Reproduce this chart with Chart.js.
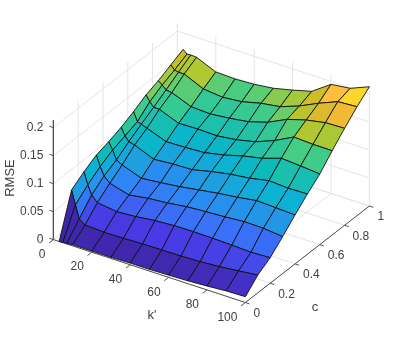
<!DOCTYPE html>
<html><head><meta charset="utf-8">
<style>html,body{margin:0;padding:0;background:#fff}canvas{display:block}</style>
<script src="https://cdn.jsdelivr.net/npm/chart.js@4"></script>
</head><body>
<canvas id="c" width="407" height="339"></canvas>
<script>
// ---- data ----
const kValues = [3, 5, 7, 10, 20, 30, 40, 50, 60, 70, 80, 90, 100];
const cValues = [0, 0.1, 0.2, 0.3, 0.4, 0.5, 0.6, 0.7, 0.8, 0.9, 1];
const rmseC00 = [0, .001, .001, .002, .002, .002, .003, .003, .004, .005, .007, .0095, .0104];
const rmseC01 = [.0747, .0502, .0275, .02, .0183, .0188, .0199, .0204, .0207, .022, .0243, .0279, .0319];
const rmseC02 = [.09, .0688, .053, .0427, .0379, .0402, .0445, .0465, .047, .0465, .0455, .044, .0455];
const rmseC03 = [.1027, .0843, .0696, .06, .0504, .0557, .0586, .0632, .0655, .0675, .0702, .0696, .0659];
const rmseC04 = [.1093, .0966, .0811, .0755, .063, .0664, .0705, .0758, .0811, .0852, .0905, .089, .0873];
const rmseC05 = [.1178, .1045, .0965, .094, .0797, .0825, .0835, .0915, .0979, .102, .1089, .1066, .1076];
const rmseC06 = [.1284, .1128, .1104, .1066, .0939, .0948, .0968, .1038, .1133, .1204, .1316, .1291, .1261];
const rmseC07 = [.141, .1311, .1234, .1232, .1095, .1105, .1095, .1138, .1215, .1348, .1523, .1505, .1504];
const rmseC08 = [.1493, .1437, .1371, .1357, .122, .1202, .1238, .1288, .139, .1555, .1655, .172, .1732];
const rmseC09 = [.1601, .1534, .1515, .1518, .1363, .1327, .1361, .1445, .1496, .1621, .1782, .1923, .1945];
const rmseC10 = [.1709, .1646, .1652, .1645, .1495, .1482, .15, .1541, .1621, .1711, .1948, .1989, .213];
const rmseRows = [rmseC00, rmseC01, rmseC02, rmseC03, rmseC04, rmseC05, rmseC06, rmseC07, rmseC08, rmseC09, rmseC10];
const kTicks = [0, 20, 40, 60, 80, 100];
const cTicks = [0, 0.2, 0.4, 0.6, 0.8, 1];
const zTicks = [0, 0.05, 0.1, 0.15, 0.2];
const zTickLabels = ['0', '0.05', '0.1', '0.15', '0.2'];
const kAxisTitle = "k'";
const cAxisTitle = 'c';
const zAxisTitle = 'RMSE';

// ---- view ----
const kMax = 100, cMax = 1, zMax = 0.2134;
function px(k, c) { return 53.4 + 1.92 * k + 124 * c; }
function py(k, c, z) { return 239.6 + 0.629 * k - 96.5 * c - 560 * z; }
function pt(k, c, z) { return { x: px(k, c), y: py(k, c, z) }; }

const colorStops = [0, .09, .21, .28, .35, .42, .47, .57, .62, .65, .71, .75, .80, .835, .90, 1];
const colorValues = [[62,38,168],[72,58,228],[58,111,248],[45,135,245],[30,158,225],[12,178,212],[10,185,190],[50,200,150],[70,205,130],[105,205,105],[175,200,50],[200,190,40],[238,185,50],[255,190,60],[250,215,40],[249,251,14]];
function colorOf(z) {
  const t = Math.max(0, Math.min(1, z / zMax));
  let i = 0;
  while (i < colorStops.length - 2 && t > colorStops[i + 1]) i++;
  const f = (t - colorStops[i]) / (colorStops[i + 1] - colorStops[i]);
  const v = [0, 1, 2].map(n => Math.round(colorValues[i][n] + (colorValues[i + 1][n] - colorValues[i][n]) * f));
  return `rgb(${v[0]},${v[1]},${v[2]})`;
}

const GRID = '#e4e4e4', AXIS = '#505050';
const painted = [];
function seg(points, color, width) {
  painted.push({ data: points, showLine: true, borderColor: color, borderWidth: width, pointRadius: 0, fill: false, tension: 0 });
}
// walls and floor
zTicks.forEach(z => {
  seg([pt(0, 0, z), pt(0, cMax, z), pt(kMax, cMax, z)], GRID, 1);
});
kTicks.forEach(k => {
  seg([pt(k, 0, 0), pt(k, cMax, 0), pt(k, cMax, zMax)], GRID, 1);
});
cTicks.forEach(c => {
  seg([pt(kMax, c, 0), pt(0, c, 0), pt(0, c, zMax)], GRID, 1);
});
// axes
seg([pt(0, 0, zMax), pt(0, 0, 0), pt(kMax, 0, 0), pt(kMax, cMax, 0)], AXIS, 1);
zTicks.forEach(z => seg([pt(0, 0, z), pt(-2.1, 0, z)], AXIS, 1));
kTicks.forEach(k => seg([pt(k, 0, 0), pt(k, -0.035, 0)], AXIS, 1));
cTicks.forEach(c => seg([pt(kMax, c, 0), pt(kMax + 2.1, c, 0)], AXIS, 1));
// surface, far cells first
for (let j = cValues.length - 2; j >= 0; j--) {
  for (let i = 0; i < kValues.length - 1; i++) {
    const a = rmseRows[j][i], b = rmseRows[j][i + 1], d = rmseRows[j + 1][i + 1], e = rmseRows[j + 1][i];
    painted.push({
      data: [pt(kValues[i], cValues[j], a), pt(kValues[i + 1], cValues[j], b), pt(kValues[i + 1], cValues[j + 1], d), pt(kValues[i], cValues[j + 1], e), pt(kValues[i], cValues[j], a)],
      showLine: true, borderColor: '#111111', borderWidth: 0.9, backgroundColor: colorOf(a),
      pointRadius: 0, fill: 'shape', tension: 0, borderJoinStyle: 'round'
    });
  }
}

const textPlugin = {
  id: 'labels3d',
  afterDraw(chart) {
    const { ctx, scales: { x, y } } = chart;
    const X = v => x.getPixelForValue(v), Y = v => y.getPixelForValue(v);
    ctx.save();
    ctx.fillStyle = '#404040';
    ctx.font = '12px "Liberation Sans"';
    ctx.textBaseline = 'middle';
    ctx.textAlign = 'right';
    zTicks.forEach((z, i) => ctx.fillText(zTickLabels[i], X(px(0, 0)) - 10, Y(py(0, 0, z)) + 0.5));
    kTicks.forEach(k => ctx.fillText(String(k), X(px(k, 0)) - 8, Y(py(k, 0, 0)) + 15));
    ctx.textAlign = 'left';
    cTicks.forEach(c => ctx.fillText(String(c), X(px(kMax, c)) + 8, Y(py(kMax, c, 0)) + 11));
    ctx.font = '13px "Liberation Sans"';
    ctx.textAlign = 'center';
    ctx.fillText(kAxisTitle, X(152), Y(315));
    ctx.fillText(cAxisTitle, X(315), Y(307));
    ctx.translate(X(10), Y(178));
    ctx.rotate(-Math.PI / 2);
    ctx.fillText(zAxisTitle, 0, 0);
    ctx.restore();
  }
};

new Chart(document.getElementById('c'), {
  type: 'scatter',
  data: { datasets: painted.reverse() },
  plugins: [textPlugin],
  options: {
    responsive: false, animation: false, devicePixelRatio: 1,
    layout: { padding: 0 },
    plugins: { legend: { display: false }, tooltip: { enabled: false } },
    scales: {
      x: { type: 'linear', min: 0, max: 407, display: false },
      y: { type: 'linear', min: 0, max: 339, reverse: true, display: false }
    }
  }
});
</script>
</body></html>
